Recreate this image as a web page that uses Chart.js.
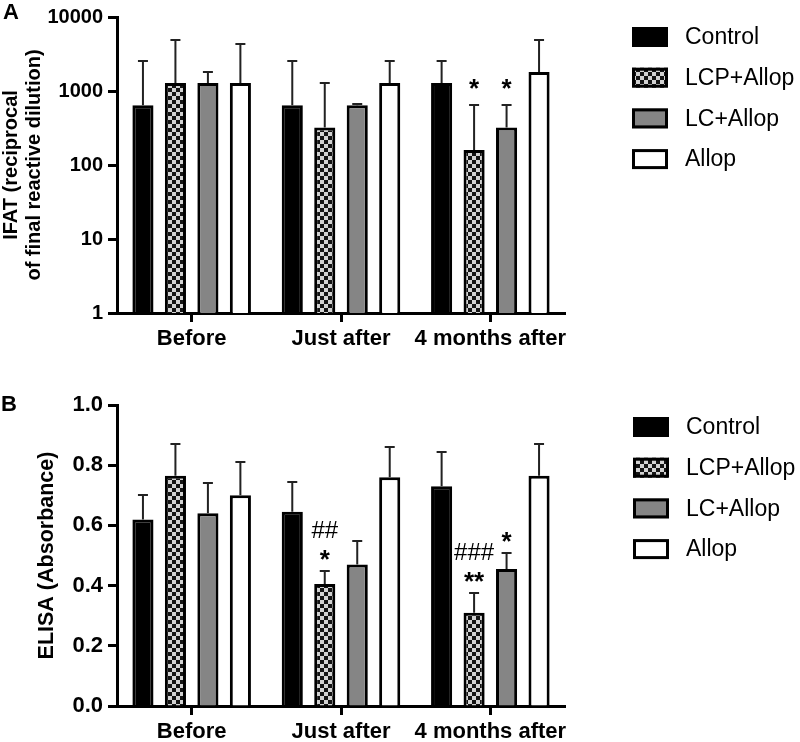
<!DOCTYPE html>
<html>
<head>
<meta charset="utf-8">
<script src="https://cdn.jsdelivr.net/npm/chart.js@4/dist/chart.umd.min.js"></script>
<style>
	body { margin: 0; background: #fff; width: 800px; height: 742px; position: relative; overflow: hidden; font-family: 'Liberation Sans', Arial, sans-serif; }
	.panel { position: absolute; left: 0; }
	#wrapA { top: 0; }
	#wrapB { top: 372px; }
	.tag { position: absolute; font-weight: bold; font-size: 22px; line-height: 1; }
</style>
</head>
<body>
<div class="panel" id="wrapA"><canvas id="chartA" width="800" height="372"></canvas></div>
<div class="panel" id="wrapB"><canvas id="chartB" width="800" height="370"></canvas></div>
<div class="tag" style="left:3px;top:1px">A</div>
<div class="tag" style="left:1px;top:393px">B</div>
<script>
const FONT = "'Liberation Sans', Arial, sans-serif";

const groups = ['Before', 'Just after', '4 months after'];
const seriesNames = ['Control', 'LCP+Allop', 'LC+Allop', 'Allop'];

// Panel A: IFAT titres (bar) and upper end of the error bar
const ifatControl = [640, 640, 1280];
const ifatLcp = [1280, 320, 160];
const ifatLc = [1280, 640, 320];
const ifatAllop = [1280, 1280, 1800];
const ifatControlTop = [2560, 2560, 2560];
const ifatLcpTop = [4900, 1280, 640];
const ifatLcTop = [1830, 660, 640];
const ifatAllopTop = [4350, 2560, 4900];
const ifatTicks = [1, 10, 100, 1000, 10000];

// Panel B: ELISA absorbance
const elisaControl = [0.62, 0.645, 0.73];
const elisaLcp = [0.765, 0.405, 0.31];
const elisaLc = [0.64, 0.47, 0.455];
const elisaAllop = [0.70, 0.76, 0.765];
const elisaControlTop = [0.70, 0.745, 0.845];
const elisaLcpTop = [0.87, 0.447, 0.375];
const elisaLcTop = [0.74, 0.548, 0.508];
const elisaAllopTop = [0.81, 0.86, 0.87];

// significance marks, listed bottom-up per group
const noMarks = [[], [], []];
const ifatLcpMarks = [[], [], ['*']];
const ifatLcMarks = [[], [], ['*']];
const elisaLcpMarks = [[], ['*', '##'], ['**', '###']];
const elisaLcMarks = [[], [], ['*']];

function checker(ctx) {
	const c = document.createElement('canvas');
	c.width = 8;
	c.height = 8;
	const g = c.getContext('2d');
	g.fillStyle = '#d2d2d2';
	g.fillRect(0, 0, 8, 8);
	g.fillStyle = '#141414';
	g.fillRect(0, 0, 4, 4);
	g.fillRect(4, 4, 4, 4);
	return ctx.createPattern(c, 'repeat');
}

function makeDatasets(ctx, values, tops, marks) {
	const fills = ['#000000', checker(ctx), '#858585', '#ffffff'];
	return seriesNames.map((name, i) => ({
		label: name,
		data: values[i],
		errTop: tops[i],
		marks: marks[i],
		backgroundColor: fills[i],
		borderColor: '#000',
		borderWidth: 3,
		barPercentage: 0.65,
		categoryPercentage: 0.87,
	}));
}

// upward-only error bars plus the */# annotations above them
const errorBars = {
	id: 'errorBars',
	afterDatasetsDraw(chart, args, opts) {
		const ctx = chart.ctx;
		const y = chart.scales.y;
		chart.data.datasets.forEach((ds, i) => {
			chart.getDatasetMeta(i).data.forEach((bar, j) => {
				const top = Math.round(y.getPixelForValue(ds.errTop[j]));
				ctx.save();
				ctx.strokeStyle = '#222';
				ctx.lineWidth = 2;
				ctx.beginPath();
				ctx.moveTo(bar.x, bar.y);
				ctx.lineTo(bar.x, top);
				ctx.moveTo(bar.x - 5, top);
				ctx.lineTo(bar.x + 5, top);
				ctx.stroke();
				ctx.fillStyle = '#000';
				ctx.textAlign = 'center';
				ctx.textBaseline = 'alphabetic';
				(ds.marks[j] || []).forEach((m, k) => {
					ctx.font = m.includes('#') ? `24px ${FONT}` : `bold 26px ${FONT}`;
					const tm = ctx.measureText(m);
					const center = top - opts.gap - k * 26;
					ctx.fillText(m, bar.x, center + (tm.actualBoundingBoxAscent - tm.actualBoundingBoxDescent) / 2);
				});
				ctx.restore();
			});
		});
	},
};

// legend to the right, drawn with the same fills as the bars
const sideLegend = {
	id: 'sideLegend',
	afterDraw(chart, args, opts) {
		const ctx = chart.ctx;
		chart.data.datasets.forEach((ds, i) => {
			const cy = opts.y + i * 40.7;
			ctx.save();
			ctx.fillStyle = ds.backgroundColor;
			ctx.fillRect(opts.x, cy - 10, 36, 20);
			ctx.strokeStyle = '#000';
			ctx.lineWidth = 3;
			ctx.strokeRect(opts.x + 1.5, cy - 8.5, 33, 17);
			ctx.fillStyle = '#000';
			ctx.font = `23px ${FONT}`;
			ctx.textBaseline = 'middle';
			ctx.fillText(ds.label, opts.x + 53, cy + 1);
			ctx.restore();
		});
	},
};

function xScale(height) {
	return {
		offset: true,
		border: { color: '#000', width: 3 },
		grid: { display: true, offset: false, drawOnChartArea: false, drawTicks: true, tickLength: 9, tickWidth: 3, tickColor: '#000' },
		ticks: { color: '#000', padding: 4, autoSkip: false, font: { family: FONT, size: 22, weight: 'bold' }, maxRotation: 0 },
		afterFit: (s) => { s.height = height; },
	};
}

function yGrid() {
	return { display: true, drawOnChartArea: false, drawTicks: true, tickLength: 9, tickWidth: 3, tickColor: '#000' };
}

const ctxA = document.getElementById('chartA').getContext('2d');
new Chart(ctxA, {
	type: 'bar',
	data: {
		labels: groups,
		datasets: makeDatasets(ctxA,
			[ifatControl, ifatLcp, ifatLc, ifatAllop],
			[ifatControlTop, ifatLcpTop, ifatLcTop, ifatAllopTop],
			[noMarks, ifatLcpMarks, ifatLcMarks, noMarks]),
	},
	options: {
		responsive: false,
		animation: false,
		layout: { padding: { top: 15, left: 0, right: 235, bottom: 0 } },
		plugins: {
			legend: { display: false },
			tooltip: { enabled: false },
			errorBars: { gap: 21 },
			sideLegend: { x: 632, y: 37 },
		},
		scales: {
			x: xScale(372 - 313),
			y: {
				type: 'logarithmic',
				min: 1,
				max: 10000,
				border: { color: '#000', width: 3 },
				grid: yGrid(),
				afterBuildTicks: (s) => { s.ticks = ifatTicks.map((v) => ({ value: v })); },
				afterFit: (s) => { s.width = 117; },
				ticks: { color: '#000', padding: 5, font: { family: FONT, size: 20, weight: 'bold' }, callback: (v) => String(v) },
				title: {
					display: true,
					text: ['IFAT (reciprocal', 'of final reactive dilution)'],
					color: '#000',
					padding: 0,
					font: { family: FONT, size: 20, weight: 'bold', lineHeight: 1.15 },
				},
			},
		},
	},
	plugins: [errorBars, sideLegend],
});

const ctxB = document.getElementById('chartB').getContext('2d');
new Chart(ctxB, {
	type: 'bar',
	data: {
		labels: groups,
		datasets: makeDatasets(ctxB,
			[elisaControl, elisaLcp, elisaLc, elisaAllop],
			[elisaControlTop, elisaLcpTop, elisaLcTop, elisaAllopTop],
			[noMarks, elisaLcpMarks, elisaLcMarks, noMarks]),
	},
	options: {
		responsive: false,
		animation: false,
		layout: { padding: { top: 33, left: 35, right: 235, bottom: 0 } },
		plugins: {
			legend: { display: false },
			tooltip: { enabled: false },
			errorBars: { gap: 16 },
			sideLegend: { x: 633, y: 55 },
		},
		scales: {
			x: xScale(370 - 334),
			y: {
				min: 0,
				max: 1,
				border: { color: '#000', width: 3 },
				grid: yGrid(),
				afterFit: (s) => { s.width = 82; },
				ticks: { stepSize: 0.2, color: '#000', padding: 5, font: { family: FONT, size: 22, weight: 'bold' }, callback: (v) => v.toFixed(1) },
				title: {
					display: true,
					text: 'ELISA (Absorbance)',
					color: '#000',
					padding: 0,
					font: { family: FONT, size: 21.5, weight: 'bold', lineHeight: 1.15 },
				},
			},
		},
	},
	plugins: [errorBars, sideLegend],
});
</script>
</body>
</html>
